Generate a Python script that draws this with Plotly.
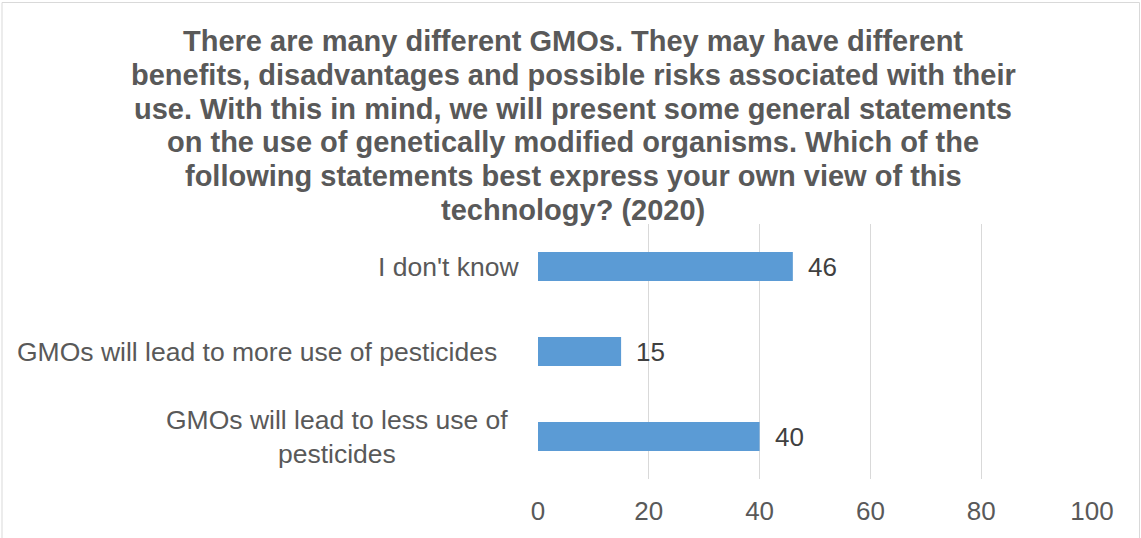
import plotly.graph_objects as go

# Survey responses (percent), listed bottom-to-top as they appear on the axis
categories = [
    "GMOs will lead to less use of<br>pesticides",
    "GMOs will lead to more use of pesticides",
    "I don't know",
]
values = [40, 15, 46]

title_lines = [
    "There are many different GMOs. They may have different",
    "benefits, disadvantages and possible risks associated with their",
    "use. With this in mind, we will present some general statements",
    "on the use of genetically modified organisms. Which of the",
    "following statements best express your own view of this",
    "technology? (2020)",
]

x_ticks = [0, 20, 40, 60, 80, 100]

W, H = 1141, 538
L, R, T, B = 538, 49, 224, 59
plot_w = W - L - R
plot_h = H - T - B


def px_x(px):
    return (px - L) / plot_w


def px_y(py):
    return (H - B - py) / plot_h


FONT = "Liberation Sans, Arial, sans-serif"
GREY = "#595959"
DARK = "#404040"
BAR = "#5B9BD5"
GRID = "#D9D9D9"

fig = go.Figure(
    go.Bar(
        x=values,
        y=categories,
        orientation="h",
        marker=dict(color=BAR, line=dict(width=0)),
        width=0.34,
        hoverinfo="x+y",
    )
)

annotations = []

# Title, one line per annotation for tight line spacing
title_top = 41
title_step = 33.8
for i, line in enumerate(title_lines):
    annotations.append(dict(
        x=px_x(573), y=px_y(title_top + i * title_step),
        xref="paper", yref="paper",
        text=f"<b>{line}</b>", showarrow=False,
        xanchor="center", yanchor="middle",
        font=dict(family=FONT, size=29, color=GREY),
    ))

# Category labels beside the bars
label_shift = [-28, -39, -17]
for cat, shift in zip(categories, label_shift):
    annotations.append(dict(
        x=0, y=cat, xref="paper", yref="y",
        text=cat, showarrow=False, align="center",
        xanchor="right", yanchor="middle", xshift=shift,
        font=dict(family=FONT, size=26.5, color=GREY),
    ))

# Value labels at the end of each bar
for cat, v in zip(categories, values):
    annotations.append(dict(
        x=v, y=cat, xref="x", yref="y",
        text=str(v), showarrow=False,
        xanchor="left", yanchor="middle", xshift=13,
        font=dict(family=FONT, size=26, color=DARK),
    ))

fig.update_layout(
    width=W, height=H,
    margin=dict(l=L, r=R, t=T, b=B),
    paper_bgcolor="white", plot_bgcolor="white",
    showlegend=False,
    annotations=annotations,
    shapes=[dict(
        type="rect", xref="paper", yref="paper",
        x0=px_x(2), x1=px_x(1139.5), y0=px_y(545), y1=px_y(2.5),
        line=dict(color=GRID, width=1), fillcolor="rgba(0,0,0,0)",
        layer="below",
    )],
    xaxis=dict(
        range=[0, 100], tickvals=x_ticks, ticktext=[str(t) for t in x_ticks],
        showgrid=True, gridcolor=GRID, gridwidth=1,
        zeroline=False, showline=False, ticks="",
        ticklabelstandoff=14,
        tickfont=dict(family=FONT, size=26, color=GREY),
        fixedrange=True,
    ),
    yaxis=dict(
        categoryorder="array", categoryarray=categories,
        range=[-0.5, 2.5], showticklabels=False,
        showgrid=False, zeroline=False, showline=False, ticks="",
        fixedrange=True,
    ),
)

fig.write_html("out.html")
